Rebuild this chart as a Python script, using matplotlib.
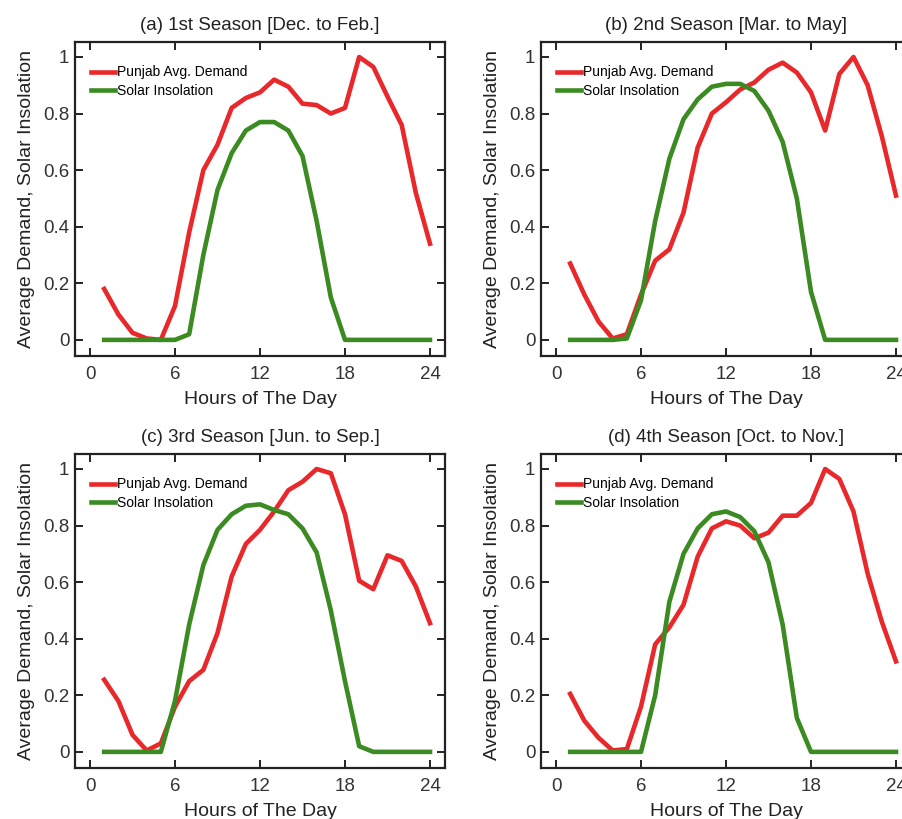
import numpy as np
import matplotlib
matplotlib.use("Agg")
import matplotlib.pyplot as plt

plt.rcParams['font.family'] = ['Liberation Sans', 'DejaVu Sans']

hours = np.arange(1, 25)

titles = ["(a) 1st Season [Dec. to Feb.]",
          "(b) 2nd Season [Mar. to May]",
          "(c) 3rd Season [Jun. to Sep.]",
          "(d) 4th Season [Oct. to Nov.]"]

# normalised demand, one value per hour (1..24)
demand_1 = [0.18, 0.09, 0.025, 0.005, 0.0, 0.12, 0.38, 0.60, 0.69, 0.82, 0.855, 0.875,
            0.92, 0.895, 0.835, 0.83, 0.80, 0.82, 1.0, 0.965, 0.86, 0.76, 0.52, 0.34]
demand_2 = [0.27, 0.16, 0.065, 0.005, 0.02, 0.16, 0.28, 0.32, 0.45, 0.68, 0.80, 0.84,
            0.885, 0.91, 0.955, 0.98, 0.945, 0.875, 0.74, 0.94, 1.0, 0.90, 0.72, 0.51]
demand_3 = [0.255, 0.18, 0.06, 0.005, 0.03, 0.16, 0.25, 0.29, 0.42, 0.62, 0.735, 0.785,
            0.85, 0.925, 0.955, 1.0, 0.985, 0.84, 0.605, 0.575, 0.695, 0.675, 0.585, 0.455]
demand_4 = [0.205, 0.11, 0.05, 0.005, 0.01, 0.16, 0.38, 0.44, 0.52, 0.69, 0.79, 0.815,
            0.80, 0.755, 0.775, 0.835, 0.835, 0.88, 1.0, 0.965, 0.85, 0.63, 0.46, 0.32]

# normalised solar insolation
solar_1 = [0, 0, 0, 0, 0, 0, 0.02, 0.30, 0.53, 0.66, 0.74, 0.77,
           0.77, 0.74, 0.65, 0.42, 0.15, 0, 0, 0, 0, 0, 0, 0]
solar_2 = [0, 0, 0, 0, 0.005, 0.14, 0.42, 0.64, 0.78, 0.85, 0.895, 0.905,
           0.905, 0.88, 0.81, 0.70, 0.50, 0.17, 0, 0, 0, 0, 0, 0]
solar_3 = [0, 0, 0, 0, 0, 0.18, 0.45, 0.66, 0.785, 0.84, 0.87, 0.875,
           0.855, 0.84, 0.79, 0.705, 0.50, 0.25, 0.02, 0, 0, 0, 0, 0]
solar_4 = [0, 0, 0, 0, 0, 0, 0.20, 0.53, 0.70, 0.79, 0.84, 0.85,
           0.83, 0.78, 0.67, 0.45, 0.12, 0, 0, 0, 0, 0, 0, 0]

demands = [demand_1, demand_2, demand_3, demand_4]
solars = [solar_1, solar_2, solar_3, solar_4]

fig = plt.figure(figsize=(9.02, 8.19), dpi=100)
W, H = 902, 819
# axes boxes in pixels: left, top, width, height (right column runs off the page)
boxes = [(75, 42, 370, 314), (541, 42, 370, 314),
         (75, 454, 370, 314), (541, 454, 370, 314)]

for i in range(4):
    l, t, w, h = boxes[i]
    ax = fig.add_axes([l / W, 1 - (t + h) / H, w / W, h / H])
    ax.plot(hours, demands[i], color='#e8282b', lw=3.3, solid_joinstyle='round',
            label='Punjab Avg. Demand')
    ax.plot(hours, solars[i], color='#3b8a22', lw=3.3, solid_joinstyle='round',
            label='Solar Insolation')
    ax.set_xlim(-1.06, 25.06)
    ax.set_ylim(-0.057, 1.053)
    ax.set_xticks([0, 6, 12, 18, 24])
    ax.set_yticks([0, 0.2, 0.4, 0.6, 0.8, 1.0])
    ax.set_yticklabels(['0', '0.2', '0.4', '0.6', '0.8', '1'])
    ax.tick_params(direction='in', top=True, right=True, length=6, width=1.4,
                   labelsize=13.5, colors='#222222', labelcolor='#333333')
    ax.tick_params(axis='x', pad=7)
    ax.tick_params(axis='y', pad=4)
    for s in ax.spines.values():
        s.set_linewidth(1.6)
        s.set_color('#222222')
    ax.set_title(titles[i], fontsize=13.5, color='#222222', pad=9)
    ax.set_xlabel("Hours of The Day", fontsize=14, color='#222222', labelpad=6)
    ax.set_ylabel("Average Demand, Solar Insolation", fontsize=14, color='#222222', labelpad=6)
    ax.legend(loc='upper left', frameon=False, fontsize=10, handlelength=1.7,
              handletextpad=0.15, labelspacing=0.35, borderaxespad=0.5,
              bbox_to_anchor=(0.01, 0.965))

fig.savefig("out.png", dpi=100)
